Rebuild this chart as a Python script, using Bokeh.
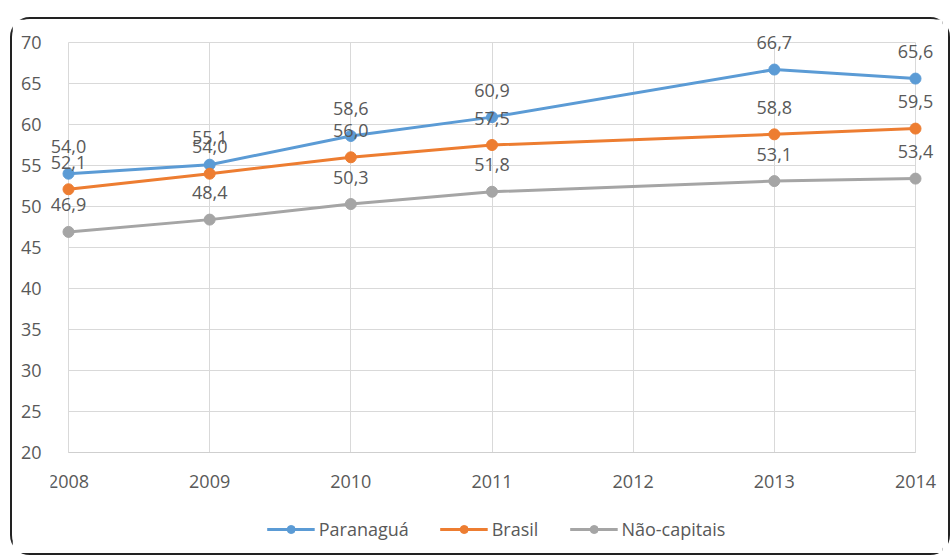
from bokeh.plotting import figure
from bokeh.models import ColumnDataSource, Range1d, FixedTicker, Legend, LegendItem
from bokeh.core.properties import value
from bokeh.embed import file_html
from bokeh.resources import INLINE

# ---- data ----
years = [2008, 2009, 2010, 2011, 2013, 2014]
paranagua = [54.0, 55.1, 58.6, 60.9, 66.7, 65.6]
brasil = [52.1, 54.0, 56.0, 57.5, 58.8, 59.5]
nao_capitais = [46.9, 48.4, 50.3, 51.8, 53.1, 53.4]
series_names = ["Paranaguá", "Brasil", "Não-capitais"]
x_ticks = [2008, 2009, 2010, 2011, 2012, 2013, 2014]
y_ticks = [20, 25, 30, 35, 40, 45, 50, 55, 60, 65, 70]

colors = ["#5B9BD5", "#ED7D31", "#A5A5A5"]
FONT = "Open Sans"
TXT = "#595959"

# layout (canvas pixels)
W, H = 936, 534
FL, FR, FT = 38, 930, 0                    # frame edges (frame runs to canvas bottom)
X0PX, X1PX, Y70PX, Y20PX = 56, 903, 23, 433
xppu = (X1PX - X0PX) / (x_ticks[-1] - x_ticks[0])
yppu = (Y20PX - Y70PX) / (y_ticks[-1] - y_ticks[0])
x_start = x_ticks[0] - (X0PX - FL) / xppu
x_end = x_ticks[-1] + (FR - X1PX) / xppu
y_end = y_ticks[-1] + (Y70PX - FT) / yppu
y_start = y_ticks[0] - (H - Y20PX) / yppu

p = figure(output_backend="svg", toolbar_location=None,
           frame_width=FR - FL, frame_height=H - FT,
           x_range=Range1d(x_start, x_end), y_range=Range1d(y_start, y_end),
           min_border_left=FL, min_border_right=W - FR,
           min_border_top=FT, min_border_bottom=0)
p.outline_line_color = None
p.background_fill_color = "white"
p.border_fill_color = "white"
p.styles = {"margin-left": "10px", "margin-top": "17px",
            "border": "2px solid #222222", "border-radius": "20px"}

# grids
p.xgrid.ticker = FixedTicker(ticks=x_ticks)
p.ygrid.ticker = FixedTicker(ticks=y_ticks)
p.xgrid.grid_line_color = "#D9D9D9"
p.ygrid.grid_line_color = "#D9D9D9"
p.xgrid.bounds = (x_ticks[0], x_ticks[-1])
p.xgrid.cross_bounds = (y_ticks[0], y_ticks[-1])
p.ygrid.bounds = (y_ticks[0], y_ticks[-1])
p.ygrid.cross_bounds = (x_ticks[0], x_ticks[-1])

# axes
p.xaxis.ticker = FixedTicker(ticks=x_ticks)
p.xaxis.major_label_overrides = {t: str(t) for t in x_ticks}
p.xaxis.bounds = (x_ticks[0], x_ticks[-1])
p.xaxis.fixed_location = y_ticks[0]
p.yaxis.ticker = FixedTicker(ticks=y_ticks)
p.yaxis.major_label_overrides = {t: str(t) for t in y_ticks}
for ax in (p.xaxis, p.yaxis):
    ax.major_tick_line_color = None
    ax.minor_tick_line_color = None
    ax.major_label_text_font = FONT
    ax.major_label_text_font_size = "18px"
    ax.major_label_text_color = TXT
p.xaxis.axis_line_color = "#CFCFCF"
p.yaxis.axis_line_color = None
p.xaxis.major_label_standoff = 16
p.yaxis.major_label_standoff = 3

items = []
for name, vals, col in zip(series_names, [paranagua, brasil, nao_capitais], colors):
    src = ColumnDataSource(dict(x=years, y=vals,
                                lab=[f"{v:.1f}".replace(".", ",") for v in vals]))
    lr = p.line("x", "y", source=src, line_color=col, line_width=3)
    cr = p.scatter("x", "y", source=src, size=11, fill_color=col, line_color=col)
    p.text("x", "y", text="lab", source=src, text_font=value(FONT),
           text_font_size="18px", text_color=TXT, text_align="center",
           text_baseline="middle", y_offset=-27)
    items.append(LegendItem(label=name, renderers=[lr, cr]))

legend = Legend(items=items, orientation="horizontal", location="bottom_center",
                glyph_width=48, glyph_height=20, label_standoff=4, spacing=31,
                padding=0, margin=12, border_line_color=None,
                background_fill_alpha=0,
                label_text_font=FONT, label_text_font_size="18px",
                label_text_color=TXT)
p.add_layout(legend, "center")

open("out.html", "w").write(file_html(p, INLINE))
